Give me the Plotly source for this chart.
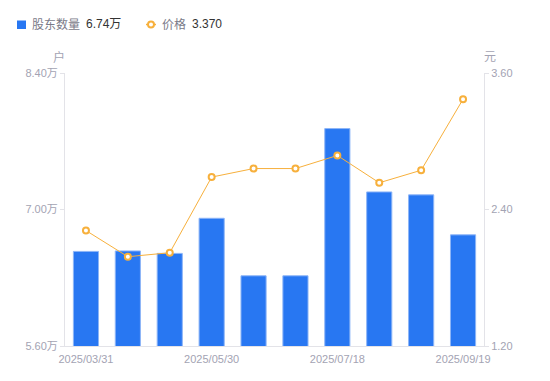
import plotly.graph_objects as go

dates = ["2025/03/31", "2025/04/18", "2025/04/30", "2025/05/30", "2025/06/13",
         "2025/06/30", "2025/07/18", "2025/08/08", "2025/08/29", "2025/09/19"]
holders = [6.57, 6.575, 6.55, 6.91, 6.32, 6.32, 7.83, 7.18, 7.15, 6.74]  # 万户
price = [2.215, 1.985, 2.02, 2.685, 2.76, 2.76, 2.875, 2.635, 2.745, 3.37]  # 元
shown_ticks = ["2025/03/31", "2025/05/30", "2025/07/18", "2025/09/19"]
left_ticks = [5.60, 7.00, 8.40]
right_ticks = [1.20, 2.40, 3.60]

W, H = 550, 381
L, R, T, B = 65, 66, 73, 35
PW, PH = W - L - R, H - T - B

def px(x):
    return (x - L) / PW

def py(y):
    return (H - B - y) / PH

BLUE = "#2877f2"
ORANGE = "#f7b03c"
GRAY = "#a3a3b3"
FONT = "Arial, Liberation Sans, Noto Sans CJK SC, sans-serif"

fig = go.Figure()
fig.add_trace(go.Bar(
    x=dates, y=holders, name="股东数量", yaxis="y",
    marker=dict(color=BLUE, line=dict(color="#8db5f7", width=1)),
    width=0.6, base=0,
))
fig.add_trace(go.Scatter(
    x=dates, y=price, name="价格", yaxis="y2", mode="lines+markers",
    line=dict(color=ORANGE, width=1),
    marker=dict(symbol="circle", size=6, color="white", line=dict(color=ORANGE, width=2)),
))

axis_common = dict(showgrid=False, zeroline=False, showline=True, linecolor="#e3e3e8",
                   linewidth=1, ticks="outside", ticklen=4, tickcolor="#e3e3e8",
                   tickfont=dict(size=11, color=GRAY, family=FONT))

fig.update_layout(
    width=W, height=H,
    margin=dict(l=L, r=R, t=T, b=B),
    paper_bgcolor="white", plot_bgcolor="white",
    showlegend=False,
    bargap=0.4,
    font=dict(family=FONT),
    xaxis=dict(type="category", tickmode="array", tickvals=shown_ticks, ticktext=shown_ticks,
               range=[-0.5, len(dates) - 0.5],
               showgrid=False, zeroline=False, showline=True, linecolor="#e3e3e8",
               ticks="", tickfont=dict(size=11, color=GRAY, family=FONT), ticklabelstandoff=3),
    yaxis=dict(range=[left_ticks[0], left_ticks[-1]], tickvals=left_ticks,
               ticktext=[f"{v:.2f}万" for v in left_ticks], **axis_common),
    yaxis2=dict(range=[right_ticks[0], right_ticks[-1]], tickvals=right_ticks,
                ticktext=[f"{v:.2f}" for v in right_ticks], overlaying="y", side="right",
                **axis_common),
)

# axis unit titles
fig.add_annotation(x=px(59), y=py(57), xref="paper", yref="paper", text="户", showarrow=False,
                   font=dict(size=12, color=GRAY, family=FONT), xanchor="center", yanchor="middle")
fig.add_annotation(x=px(490), y=py(57), xref="paper", yref="paper", text="元", showarrow=False,
                   font=dict(size=12, color=GRAY, family=FONT), xanchor="center", yanchor="middle")

# custom legend
ly = 24.5
fig.add_shape(type="rect", xref="paper", yref="paper", x0=px(17), x1=px(26), y0=py(20.5), y1=py(29),
              fillcolor=BLUE, line=dict(width=0))
fig.add_annotation(x=px(30), y=py(ly), xref="paper", yref="paper", text="股东数量", showarrow=False,
                   font=dict(size=12, color="#7a7a88", family=FONT), xanchor="left", yanchor="middle")
fig.add_annotation(x=px(84), y=py(ly), xref="paper", yref="paper", text=f"{holders[-1]:.2f}万",
                   showarrow=False, font=dict(size=12, color="#333333", family=FONT),
                   xanchor="left", yanchor="middle")
fig.add_shape(type="line", xref="paper", yref="paper", x0=px(146), x1=px(156), y0=py(ly), y1=py(ly),
              line=dict(color=ORANGE, width=1.5))
fig.add_shape(type="circle", xref="paper", yref="paper", x0=px(148), x1=px(154), y0=py(ly - 3),
              y1=py(ly + 3), fillcolor="white", line=dict(color=ORANGE, width=2))
fig.add_annotation(x=px(160), y=py(ly), xref="paper", yref="paper", text="价格", showarrow=False,
                   font=dict(size=12, color="#7a7a88", family=FONT), xanchor="left", yanchor="middle")
fig.add_annotation(x=px(190), y=py(ly), xref="paper", yref="paper", text=f"{price[-1]:.3f}",
                   showarrow=False, font=dict(size=12, color="#333333", family=FONT),
                   xanchor="left", yanchor="middle")

fig.write_html("out.html", post_script="document.body.style.margin='0';",
               config={"displayModeBar": False})
